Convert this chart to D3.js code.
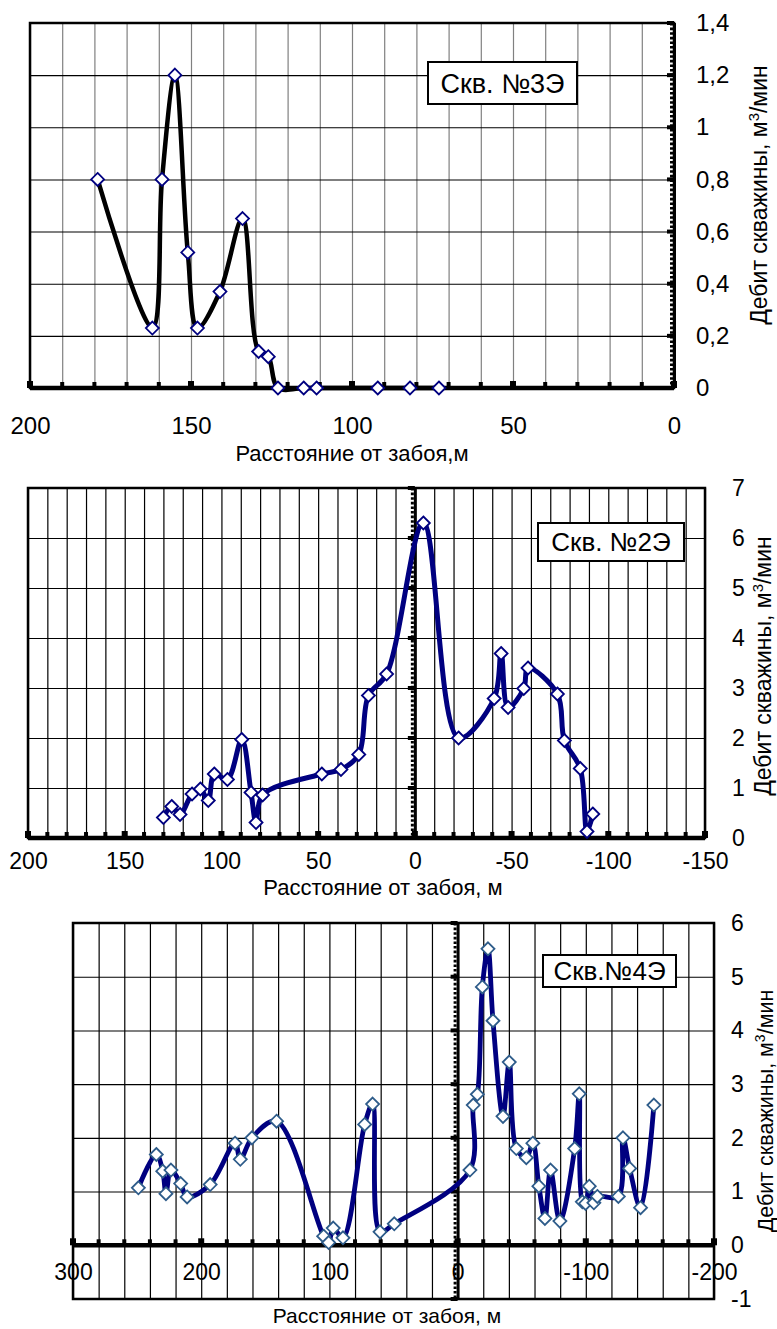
<!DOCTYPE html>
<html>
<head>
<meta charset="utf-8">
<script src="https://cdn.jsdelivr.net/npm/d3@7"></script>
<style>
  body { margin: 0; background: #fff; }
  svg { display: block; }
</style>
</head>
<body>
<div id="charts"></div>
<script>
// Скв. №3Э
let dist3 = [179, 162, 159, 155, 151, 148, 141, 134, 129, 126, 123, 115, 111, 92, 82, 73],
    flow3 = [0.8, 0.23, 0.8, 1.2, 0.52, 0.23, 0.37, 0.65, 0.14, 0.12, 0, 0, 0, 0, 0, 0];
// Скв. №2Э
let dist2 = [130, 125.7, 121.4, 115.2, 110.9, 106.8, 103.7, 96.9, 89.5, 84.7, 82.1, 78.7, 48.1, 38.2, 29, 24, 14.6,
             -4.4, -22.6, -41, -44.6, -48.2, -56.3, -58.5, -73.7, -77.3, -85.5, -89, -92],
    flow2 = [0.41, 0.63, 0.47, 0.88, 0.98, 0.75, 1.28, 1.17, 1.97, 0.91, 0.31, 0.86, 1.28, 1.37, 1.67, 2.85, 3.28,
             6.3, 2.0, 2.79, 3.69, 2.61, 2.99, 3.4, 2.88, 1.95, 1.39, 0.13, 0.48];
// Скв.№4Э
let dist4 = [249, 235, 230, 227.5, 223.6, 216, 211, 193, 173.6, 169.5, 160.4, 141.2, 104.5, 100.6, 97, 89.4, 72.5, 66.3, 60.5, 49.4,
             -9.6, -12.2, -15.4, -19.3, -23.7, -27.6, -35.4, -40.3, -45.8, -53.6, -58.7, -63.4, -68.1, -72.5, -79.8,
             -91.3, -94.9, -97.3, -99.8, -102.7, -106.3, -109, -125.4, -129, -134.2, -142.7, -153.1],
    flow4 = [1.07, 1.69, 1.38, 0.96, 1.4, 1.15, 0.9, 1.13, 1.9, 1.6, 2.0, 2.31, 0.17, 0.05, 0.32, 0.14, 2.25, 2.63, 0.25, 0.4,
             1.4, 2.61, 2.81, 4.81, 5.52, 4.18, 2.4, 3.41, 1.8, 1.63, 1.9, 1.1, 0.5, 1.4, 0.45,
             1.8, 2.82, 0.81, 0.78, 1.1, 0.79, 0.91, 0.91, 2.0, 1.43, 0.7, 2.61];

// tick labels
let xTicks3 = [200, 150, 100, 50, 0],
    yTicks3 = [0, 0.2, 0.4, 0.6, 0.8, 1, 1.2, 1.4],
    xTicks2 = [200, 150, 100, 50, 0, -50, -100, -150],
    yTicks2 = [0, 1, 2, 3, 4, 5, 6, 7],
    xTicks4 = [300, 200, 100, 0, -100, -200],
    yTicks4 = [-1, 0, 1, 2, 3, 4, 5, 6];

let FONT = '"Liberation Sans", Arial, sans-serif';
let svg = d3.select("#charts").append("svg").attr("width", 777).attr("height", 1329);

let fmt = d => String(d).replace(".", ",");

function drawWell(c) {
    let x = d3.scaleLinear().domain(c.xDomain).range(c.xRange),
        y = d3.scaleLinear().domain(c.yDomain).range(c.yRange);
    let [x0, x1] = c.xRange, [yB, yT] = c.yRange;
    let g = svg.append("g");
    let xGrid = d3.range(c.xDomain[1], c.xDomain[0] + 0.001, c.xStep),
        yGrid = d3.range(c.yDomain[0], c.yDomain[1] + 0.001, c.yStep);

    // grid
    g.append("g")
        .attr("transform", `translate(0,${yB})`)
        .call(d3.axisBottom(x).tickValues(xGrid).tickSize(-(yB - yT)).tickFormat(""))
        .call(a => a.select(".domain").remove())
        .selectAll("line").attr("stroke", c.vGrid).attr("stroke-width", 1.2);
    g.append("g")
        .attr("transform", `translate(${x0},0)`)
        .call(d3.axisLeft(y).tickValues(yGrid).tickSize(-(x1 - x0)).tickFormat(""))
        .call(a => a.select(".domain").remove())
        .selectAll("line").attr("stroke", "#000").attr("stroke-width", 1.1);

    g.append("rect")
        .attr("x", x0).attr("y", yT).attr("width", x1 - x0).attr("height", yB - yT)
        .attr("fill", "none").attr("stroke", "#000").attr("stroke-width", 2.5);

    // x axis at 0
    let ax = y(0);
    g.append("line").attr("x1", x0).attr("x2", x1).attr("y1", ax).attr("y2", ax)
        .attr("stroke", "#000").attr("stroke-width", 4.5);
    g.append("g").selectAll("rect").data(xGrid).join("rect")
        .attr("x", d => x(d) - (c.xTicks.includes(d) ? 3 : 2))
        .attr("width", d => c.xTicks.includes(d) ? 6 : 4)
        .attr("y", d => ax - (c.xTicks.includes(d) ? 7 : 6))
        .attr("height", d => c.xTicks.includes(d) ? 7 : 6);

    // y axis at 0
    let ay = x(0);
    g.append("line").attr("x1", ay + 0.5).attr("x2", ay + 0.5).attr("y1", yT).attr("y2", yB)
        .attr("stroke", "#000").attr("stroke-width", 3);
    g.append("line").attr("x1", ay - 2.5).attr("x2", ay - 2.5).attr("y1", yT).attr("y2", yB)
        .attr("stroke", "#000").attr("stroke-width", 3).attr("stroke-dasharray", "2.6,2");
    g.append("g").selectAll("rect").data(yGrid).join("rect")
        .attr("x", ay - 7).attr("width", 7)
        .attr("y", d => y(d) - 2).attr("height", 4);

    // series
    let pts = c.dist.map((d, i) => [d, c.flow[i]]);
    g.append("path")
        .datum(pts)
        .attr("fill", "none")
        .attr("stroke", c.lineColor)
        .attr("stroke-width", c.lineWidth)
        .attr("stroke-linejoin", "round")
        .attr("d", d3.line().x(d => x(d[0])).y(d => y(d[1])).curve(d3.curveCatmullRom.alpha(0.5)));
    g.append("g").selectAll("path").data(pts).join("path")
        .attr("transform", d => `translate(${x(d[0])},${y(d[1])})`)
        .attr("d", "M0,-6.5L6.5,0L0,6.5L-6.5,0Z")
        .attr("fill", "#fff")
        .attr("stroke", c.markColor)
        .attr("stroke-width", 1.8);

    // legend
    let lg = c.legend;
    g.append("rect").attr("x", lg.x).attr("y", lg.y).attr("width", lg.w).attr("height", lg.h)
        .attr("fill", "#fff").attr("stroke", "#000").attr("stroke-width", 2);
    g.append("text").attr("x", lg.x + lg.w / 2).attr("y", lg.y + lg.h / 2)
        .attr("dy", "0.36em").attr("text-anchor", "middle")
        .attr("font-family", FONT).attr("font-size", lg.size)
        .text(lg.text);

    // tick labels
    g.append("g")
        .attr("transform", `translate(${c.yLabelX},0)`)
        .call(d3.axisRight(y).tickValues(c.yTicks).tickSize(0).tickPadding(0).tickFormat(fmt))
        .call(a => a.select(".domain").remove())
        .attr("font-family", FONT).attr("font-size", c.tickSize);
    g.append("g")
        .attr("transform", `translate(0,${c.xLabelY})`)
        .call(d3.axisBottom(x).tickValues(c.xTicks).tickSize(0).tickPadding(0).tickFormat(fmt))
        .call(a => a.select(".domain").remove())
        .attr("font-family", FONT).attr("font-size", c.tickSize)
        .selectAll("text").attr("y", 0).attr("dy", "0.36em");

    // titles
    g.append("text")
        .attr("x", c.xTitle[0]).attr("y", c.xTitle[1]).attr("dy", "0.36em")
        .attr("text-anchor", "middle")
        .attr("font-family", FONT).attr("font-size", c.titleSize)
        .text(c.xTitleText);
    let yt = g.append("text")
        .attr("transform", `translate(${c.yTitle[0]},${c.yTitle[1]}) rotate(-90)`)
        .attr("dy", "0.36em")
        .attr("text-anchor", "middle")
        .attr("font-family", FONT).attr("font-size", c.yTitleSize);
    yt.append("tspan").text("Дебит скважины, м");
    yt.append("tspan").attr("dy", -8).attr("font-size", c.yTitleSize * 0.65).text("3");
    yt.append("tspan").attr("dy", 8).text("/мин");
}

drawWell({
    dist: dist3, flow: flow3,
    xDomain: [200, 0], xRange: [30, 674], yDomain: [0, 1.4], yRange: [388, 23],
    xStep: 10, yStep: 0.2, xTicks: xTicks3, yTicks: yTicks3,
    vGrid: "#808080", lineColor: "#000", lineWidth: 4.5, markColor: "#000080",
    legend: {x: 428, y: 62, w: 149, h: 42, text: "Скв. №3Э", size: 27},
    yLabelX: 696, xLabelY: 425, tickSize: 24, titleSize: 22, yTitleSize: 23,
    xTitle: [352, 453], xTitleText: "Расстояние от забоя,м", yTitle: [759, 195]
});
drawWell({
    dist: dist2, flow: flow2,
    xDomain: [200, -150], xRange: [28, 705], yDomain: [0, 7], yRange: [838, 488],
    xStep: 10, yStep: 1, xTicks: xTicks2, yTicks: yTicks2,
    vGrid: "#000", lineColor: "#000080", lineWidth: 5, markColor: "#000080",
    legend: {x: 538, y: 523, w: 146, h: 38, text: "Скв. №2Э", size: 26},
    yLabelX: 732, xLabelY: 861, tickSize: 23, titleSize: 22, yTitleSize: 23,
    xTitle: [383, 887], xTitleText: "Расстояние от забоя, м", yTitle: [763, 666]
});
drawWell({
    dist: dist4, flow: flow4,
    xDomain: [300, -200], xRange: [73, 714], yDomain: [-1, 6], yRange: [1299, 923],
    xStep: 20, yStep: 1, xTicks: xTicks4, yTicks: yTicks4,
    vGrid: "#000", lineColor: "#000080", lineWidth: 4.8, markColor: "#2E5C8A",
    legend: {x: 543, y: 955, w: 133, h: 32, text: "Скв.№4Э", size: 26},
    yLabelX: 731, xLabelY: 1272, tickSize: 23, titleSize: 21, yTitleSize: 21.5,
    xTitle: [387, 1315], xTitleText: "Расстояние от забоя, м", yTitle: [765, 1111]
});
</script>
</body>
</html>
